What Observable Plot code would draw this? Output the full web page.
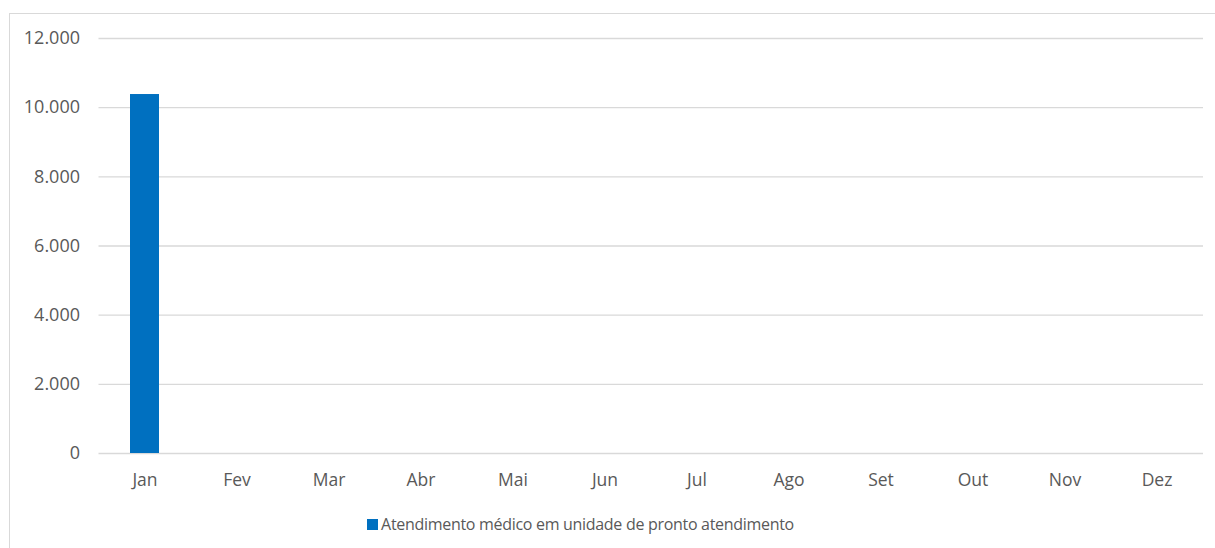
<!DOCTYPE html>
<html>
<head>
<meta charset="utf-8">
<script src="https://cdn.jsdelivr.net/npm/d3@7"></script>
<script src="https://cdn.jsdelivr.net/npm/@observablehq/plot@0.6"></script>
<style>
  html, body { margin: 0; padding: 0; background: #fff; }
  body { width: 1215px; height: 548px; overflow: hidden; position: relative; font-family: "Open Sans", sans-serif; }
  #frame { position: absolute; left: 9px; top: 13px; width: 1220px; height: 600px; border: 1px solid #d9d9d9; box-sizing: border-box; }
  #chart { position: absolute; left: 0; top: 0; }
  #legend { position: absolute; top: 513px; left: 0; width: 1161px; display: flex; justify-content: center; align-items: center; font-size: 16px; letter-spacing: -0.3px; color: #595959; box-sizing: border-box; }
  #legend .sw { width: 11px; height: 11px; background: #0070C0; margin-right: 3px; }
</style>
</head>
<body>
<div id="frame"></div>
<div id="chart"></div>
<div id="legend"></div>
<script>
const months = ["Jan","Fev","Mar","Abr","Mai","Jun","Jul","Ago","Set","Out","Nov","Dez"];
const values = [10380, 0, 0, 0, 0, 0, 0, 0, 0, 0, 0, 0];
const seriesName = "Atendimento médico em unidade de pronto atendimento";
const yTicks = [0, 2000, 4000, 6000, 8000, 10000, 12000];
const barColor = "#0070C0";

const data = months.map((m, i) => ({month: m, value: values[i]}));
const fmt = d3.formatLocale({decimal: ",", thousands: ".", grouping: [3], currency: ["R$", ""]}).format(",d");

const plot = Plot.plot({
  width: 1215,
  height: 500,
  marginLeft: 98.5,
  marginRight: 12,
  marginTop: 38,
  marginBottom: 47,
  style: {fontFamily: "Open Sans, sans-serif", fontSize: "17px", color: "#595959", background: "transparent"},
  x: {domain: months, paddingInner: 0.685, paddingOuter: 0.3425, label: null},
  y: {domain: [0, 12000], label: null},
  marks: [
    Plot.gridY(yTicks, {stroke: "#d9d9d9", strokeOpacity: 1, strokeWidth: 1.3}),
    Plot.barY(data, {x: "month", y: "value", fill: barColor}),
    Plot.axisY(yTicks, {tickSize: 0, tickPadding: 19, tickFormat: fmt, fill: "#595959", fontSize: 18}),
    Plot.axisX({tickSize: 0, tickPadding: 20, fill: "#595959", fontSize: 17.5})
  ]
});
document.getElementById("chart").appendChild(plot);

const lg = document.getElementById("legend");
const sw = document.createElement("div"); sw.className = "sw";
const tx = document.createElement("span"); tx.textContent = seriesName;
lg.appendChild(sw); lg.appendChild(tx);
</script>
</body>
</html>
